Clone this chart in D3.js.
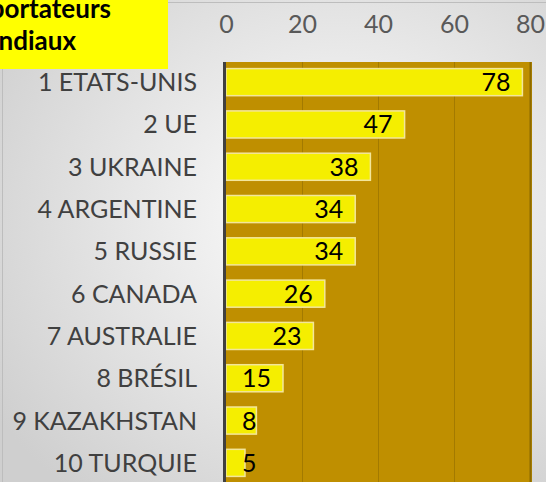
<!DOCTYPE html>
<html>
<head>
<meta charset="utf-8">
<script src="https://cdn.jsdelivr.net/npm/d3@7"></script>
<style>
  html, body { margin: 0; padding: 0; background: #fff; }
  svg { display: block; }
</style>
</head>
<body>
<div id="container"></div>
<script>
const w = 546,
    h = 482;

// data
const categories = ["1 ETATS-UNIS", "2 UE", "3 UKRAINE", "4 ARGENTINE", "5 RUSSIE",
    "6 CANADA", "7 AUSTRALIE", "8 BRÉSIL", "9 KAZAKHSTAN", "10 TURQUIE"];
const values = [78, 47, 38, 34, 34, 26, 23, 15, 8, 5];
const ticks = [0, 20, 40, 60, 80];
const titleLines = ["Exportateurs", "mondiaux"];

const font = "Lato, 'Open Sans', sans-serif";

var svg = d3.select("div#container")
    .append("svg")
    .attr("width", w)
    .attr("height", h)
    .attr("viewBox", "0 0 " + w + " " + h);

// background gradient (light centre, grey edges)
var defs = svg.append("defs");
var grad = defs.append("radialGradient")
    .attr("id", "bg")
    .attr("cx", "62%").attr("cy", "45%").attr("r", "75%");
grad.append("stop").attr("offset", "0%").attr("stop-color", "#ffffff");
grad.append("stop").attr("offset", "100%").attr("stop-color", "#cfcfcf");

svg.append("rect")
    .attr("x", 0).attr("y", 0)
    .attr("width", w).attr("height", h)
    .style("fill", "url(#bg)");
svg.append("rect") // chart frame
    .attr("x", 2.5).attr("y", 2.5)
    .attr("width", w + 10).attr("height", h + 10)
    .style("fill", "none")
    .style("stroke", "#bdbdbd")
    .style("stroke-width", 1);

var x = d3.scaleLinear()
    .domain([0, 80])
    .range([226, 530]);

var y = d3.scaleBand()
    .domain(categories)
    .range([61, 484])
    .paddingInner(0.36)
    .paddingOuter(0.18);

// plot area
svg.append("rect")
    .attr("x", x(0) - 3)
    .attr("y", 62)
    .attr("width", x(80) - x(0) + 5)
    .attr("height", h - 62 + 10)
    .style("fill", "#bf8f00");

// gridlines
svg.append("g")
    .selectAll("line")
    .data(ticks.filter(t => t > 0))
    .enter().append("line")
    .attr("x1", d => x(d) + 0.5)
    .attr("x2", d => x(d) + 0.5)
    .attr("y1", 62)
    .attr("y2", h)
    .style("stroke", d => d === 80 ? "#8c6a00" : "#a37a00")
    .style("stroke-width", d => d === 80 ? 2 : 1);

// bars
svg.append("g")
    .selectAll("rect")
    .data(values)
    .enter().append("rect")
    .attr("x", x(0))
    .attr("y", (d, i) => y(categories[i]))
    .attr("width", d => x(d) - x(0))
    .attr("height", y.bandwidth())
    .style("fill", "#f5ee00")
    .style("stroke", "#f3e69a")
    .style("stroke-width", 1.5);

// left axis line
svg.append("line")
    .attr("x1", x(0) - 1.5).attr("x2", x(0) - 1.5)
    .attr("y1", 62).attr("y2", h)
    .style("stroke", "#404040")
    .style("stroke-width", 3);

// value labels
svg.append("g")
    .selectAll("text")
    .data(values)
    .enter().append("text")
    .attr("x", function (d) {
        var end = x(d) - 12;
        var minEnd = x(0) + 16 + String(d).length * 14.5;
        return Math.max(end, minEnd);
    })
    .attr("y", (d, i) => y(categories[i]) + y.bandwidth() / 2 + 9)
    .attr("text-anchor", "end")
    .style("font-family", font)
    .style("font-size", "25px")
    .style("fill", "#000")
    .text(d => d);

// top axis tick labels
var axisTop = d3.axisTop(x).tickValues(ticks).tickSize(0).tickPadding(0);
var gAxis = svg.append("g")
    .attr("transform", "translate(0,33)")
    .call(axisTop);
gAxis.select(".domain").remove();
gAxis.selectAll("text")
    .style("font-family", font)
    .style("font-size", "25px")
    .style("fill", "#595959")
    .attr("dy", 0);

// category labels
var axisLeft = d3.axisLeft(y).tickSize(0).tickPadding(0);
var gCat = svg.append("g")
    .attr("transform", "translate(197,0)")
    .call(axisLeft);
gCat.select(".domain").remove();
gCat.selectAll("text")
    .style("font-family", font)
    .style("font-size", "25px")
    .style("fill", "#404040")
    .attr("dy", "0.36em");

// title box (cut at the left edge, as in the source)
var title = svg.append("g");
title.append("rect")
    .attr("x", 0).attr("y", 0)
    .attr("width", 168).attr("height", 69)
    .style("fill", "#ffff00");
title.selectAll("text")
    .data(titleLines)
    .enter().append("text")
    .attr("x", (d, i) => i === 0 ? 111 : 76)
    .attr("y", (d, i) => 18 + i * 32)
    .attr("text-anchor", "end")
    .style("font-family", font)
    .style("font-weight", "bold")
    .style("font-size", "26px")
    .style("fill", "#000")
    .text(d => d);
</script>
</body>
</html>
